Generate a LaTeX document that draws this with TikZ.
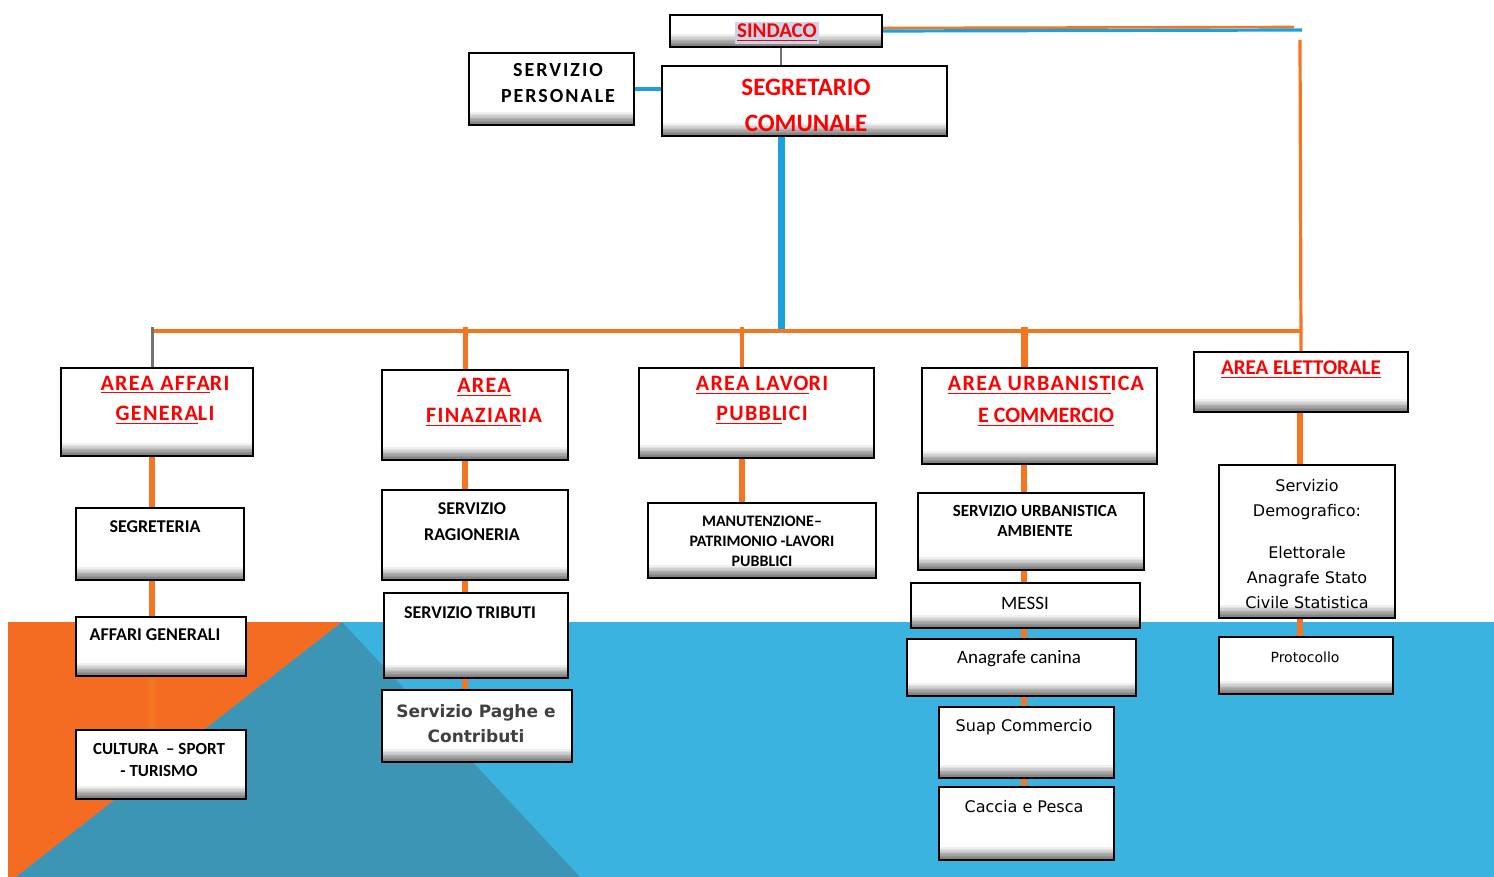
\documentclass[tikz,border=0pt]{standalone}
\usepackage{fontspec}
\setmainfont{Carlito}
\newfontfamily\spaziato[LetterSpace=6]{Carlito}
\newfontfamily\largo[LetterSpace=10]{Carlito}
\newfontfamily\tahoma{DejaVu Sans}
\usetikzlibrary{fit}
\definecolor{arancio}{HTML}{F36C21}
\definecolor{lineaor}{HTML}{F47623}
\definecolor{azzurro}{HTML}{3BB3E0}
\definecolor{petrolio}{HTML}{3C95B4}
\definecolor{bluline}{HTML}{1AA0DA}
\definecolor{rosso}{HTML}{FF0000}
\definecolor{alone}{HTML}{C9D6EA}
\tikzstyle{casella} = [draw=black, line width=1.2pt, fill=white, inner sep=0pt,
  path picture={\foreach \k [evaluate=\k as \g using int(54-6*\k)] in {0,...,8}
    \fill[black!\g] ([yshift=\k*0.7pt]path picture bounding box.south west)
      rectangle ([yshift=\k*0.7pt+0.75pt]path picture bounding box.south east);}]
\tikzstyle{titolo} = [text=rosso, font=\spaziato\bfseries\fontsize{11}{15}\selectfont, align=center, inner sep=0pt]
\tikzstyle{voce} = [text=black, font=\bfseries\fontsize{9}{13}\selectfont, align=center, inner sep=0pt]
\tikzstyle{tenue} = [text=black, font=\tahoma\fontsize{8}{12.5}\selectfont, align=center, inner sep=0pt]
\tikzstyle{ramo} = [draw=lineaor, line width=3pt]
\tikzstyle{bus} = [draw=lineaor, line width=1.6pt]
\tikzstyle{filo} = [draw=bluline, line width=2pt]
\tikzstyle{grigio} = [draw=black!55, line width=1pt]

\begin{document}
\begin{tikzpicture}[x=0.5pt,y=-0.5pt]
\useasboundingbox (0,0) rectangle (1494,877);
% sfondo
\fill[azzurro] (8,622) rectangle (1494,877);
\fill[arancio] (8,622) -- (342,622) -- (16,877) -- (8,877) -- cycle;
\fill[petrolio] (342,622) -- (580,877) -- (16,877) -- cycle;

% vertice
\node[casella, fit={(670,15) (882,47)}] (sindaco) {};
\node[casella, fit={(662,66) (947,136)}] (segretario) {};
\node[casella, fit={(469,53) (634,125)}] (personale) {};
\node[text=rosso, fill=alone, inner sep=1pt, font=\bfseries\fontsize{10.5}{12}\selectfont] at (777,33) {\underline{SINDACO}};
\node[titolo, font=\bfseries\fontsize{12.5}{18}\selectfont] at (806,105) {SEGRETARIO\\COMUNALE};
\node[voce, font=\largo\bfseries\fontsize{10}{13}\selectfont] at (558,83) {SERVIZIO\\PERSONALE};

% aree
\node[casella, fit={(61,368) (253,456)}] (affari) {};
\node[casella, fit={(382,370) (568,460)}] (finanziaria) {};
\node[casella, fit={(639,368) (874,458)}] (lavori) {};
\node[casella, fit={(922,368) (1157,464)}] (urbanistica) {};
\node[casella, fit={(1194,352) (1408,412)}] (elettorale) {};
\node[titolo] at (165,400) {\underline{AREA AFFA}RI\\\underline{GENERA}LI};
\node[titolo] at (484,402) {\underline{AREA}\\\underline{FINAZIAR}IA};
\node[titolo] at (762,400) {\underline{AREA LAVO}RI\\\underline{PUBBL}ICI};
\node[titolo, font=\bfseries\fontsize{11}{16}\selectfont] at (1046,401) {{\spaziato\underline{AREA URBANIST}ICA}\\\underline{E COMMERCIO}};
\node[titolo, font=\bfseries\fontsize{10.5}{12}\selectfont] at (1301,370) {\underline{AREA ELETTORALE}};

% servizi
\node[casella, fit={(76,508) (244,580)}] (segreteria) {};
\node[casella, fit={(76,617) (246,676)}] (affgen) {};
\node[casella, fit={(76,730) (246,799)}] (cultura) {};
\node[casella, fit={(382,490) (568,580)}] (ragioneria) {};
\node[casella, fit={(384,593) (568,678)}] (tributi) {};
\node[casella, fit={(382,690) (572,762)}] (paghe) {};
\node[casella, fit={(648,503) (876,578)}] (manutenzione) {};
\node[casella, fit={(918,493) (1144,570)}] (servurb) {};
\node[casella, fit={(911,583) (1140,628)}] (messi) {};
\node[casella, fit={(907,639) (1136,696)}] (canina) {};
\node[casella, fit={(939,707) (1114,778)}] (suap) {};
\node[casella, fit={(939,787) (1114,860)}] (caccia) {};
\node[casella, fit={(1219,465) (1395,618)}] (demografico) {};
\node[casella, fit={(1219,637) (1393,694)}] (protocollo) {};

\node[voce] at (155,527) {SEGRETERIA};
\node[voce] at (155,635) {AFFARI GENERALI};
\node[voce, font=\bfseries\fontsize{8.5}{11}\selectfont] at (159,760) {CULTURA \ -- SPORT\\- TURISMO};
\node[voce] at (472,522) {SERVIZIO\\RAGIONERIA};
\node[voce] at (470,613) {SERVIZIO TRIBUTI};
\node[tenue, text=black!75, font=\tahoma\bfseries\fontsize{8.5}{12.5}\selectfont] at (476,724) {Servizio Paghe e\\Contributi};
\node[voce, font=\bfseries\fontsize{8}{10}\selectfont] at (762,541) {MANUTENZIONE--\\PATRIMONIO -LAVORI\\PUBBLICI};
\node[voce, font=\bfseries\fontsize{8.5}{10}\selectfont] at (1035,521) {SERVIZIO URBANISTICA\\AMBIENTE};
\node[voce, font=\fontsize{9.5}{12}\selectfont] at (1025,603) {MESSI};
\node[voce, font=\fontsize{9.5}{12}\selectfont] at (1019,659) {Anagrafe canina};
\node[tenue] at (1024,727) {Suap Commercio};
\node[tenue] at (1024,807) {Caccia e Pesca};
\node[tenue] at (1307,544) {Servizio\\Demografico:\\[8.5pt]Elettorale\\Anagrafe Stato\\Civile Statistica};
\node[tenue, font=\tahoma\fontsize{7}{9}\selectfont] at (1305,657) {Protocollo};

% collegamenti
\coordinate (c1) at (152,331);
\coordinate (c2) at (465,331);
\coordinate (c3) at (742,331);
\coordinate (c4) at (1024,331);
\coordinate (c5) at (1300,331);
\coordinate (tronco) at (781,331);
\coordinate (angolo) at (1300,30);

\draw[bus, line width=1.3pt] ([yshift=1.5pt]sindaco.east) -- ([yshift=1.5pt,xshift=-3pt]angolo);
\draw[filo, line width=1.6pt] (sindaco.east) -- ([xshift=1pt]angolo);
\draw[bus] ([yshift=-5pt]angolo) -- (elettorale.north);
\draw[grigio] (tronco |- sindaco.south) -- (tronco |- segretario.north);
\draw[filo] (personale.east) -- (personale.east -| segretario.west);
\draw[filo, line width=3.5pt] (tronco |- segretario.south) -- (tronco);
\draw[bus] (c1) -- (c5);
\draw[grigio, line width=1.5pt] ([yshift=2pt]c1) -- (c1 |- affari.north);
\foreach \c/\n/\w in {c2/finanziaria/2.5pt, c3/lavori/1.8pt, c4/urbanistica/3.5pt}
  \draw[ramo, line width=\w] ([yshift=2pt]\c) -- (\c |- \n.north);
\foreach \c/\su/\giu in {c1/affari/segreteria, c1/segreteria/affgen, c1/affgen/cultura,
    c2/finanziaria/ragioneria, c2/ragioneria/tributi, c2/tributi/paghe,
    c3/lavori/manutenzione,
    c4/urbanistica/servurb, c4/servurb/messi, c4/messi/canina, c4/canina/suap, c4/suap/caccia,
    c5/elettorale/demografico, c5/demografico/protocollo}
  \draw[ramo] (\c |- \su.south) -- (\c |- \giu.north);
\end{tikzpicture}
\end{document}
